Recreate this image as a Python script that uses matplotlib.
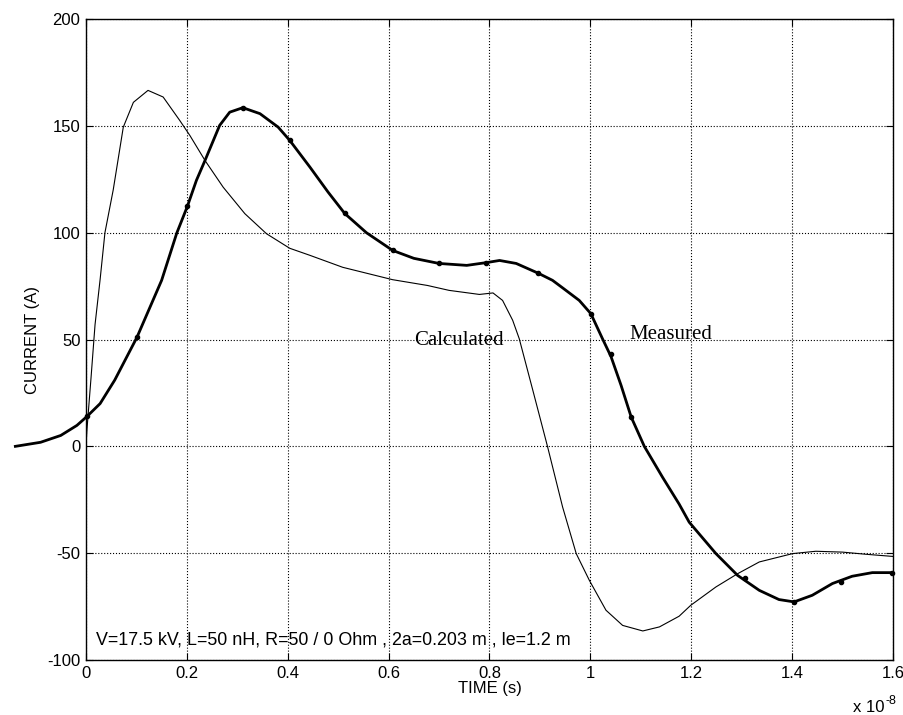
import numpy as np
import matplotlib
matplotlib.use("Agg")
import matplotlib.pyplot as plt

plt.rcParams['font.family'] = ['Liberation Sans', 'DejaVu Sans']
plt.rcParams['axes.unicode_minus'] = False

# time in units of 1e-8 s, current in A
meas_t = [-0.14, -0.09, -0.05, -0.018, 0.002, 0.028, 0.057, 0.101, 0.15, 0.18,
          0.201, 0.219, 0.236, 0.265, 0.285, 0.311, 0.345, 0.381, 0.404, 0.444,
          0.48, 0.513, 0.556, 0.608, 0.65, 0.70, 0.755, 0.794, 0.82, 0.853,
          0.897, 0.925, 0.946, 0.978, 1.001, 1.024, 1.041, 1.061, 1.081, 1.107,
          1.143, 1.176, 1.196, 1.249, 1.292, 1.335, 1.374, 1.404, 1.44, 1.48,
          1.519, 1.559, 1.599]
meas_i = [0.0, 1.9, 5.1, 9.8, 14.0, 20.0, 31.0, 51.0, 77.7, 99.8,
          112.3, 124.5, 133.8, 150.2, 156.4, 158.5, 155.7, 149.4, 143.2, 130.7,
          119.0, 109.0, 100.0, 91.7, 88.0, 85.6, 84.7, 86.0, 87.0, 85.6,
          81.0, 77.7, 74.0, 68.3, 62.1, 50.4, 42.0, 28.5, 13.7, 0.0,
          -14.4, -27.0, -35.5, -50.2, -60.4, -67.4, -71.7, -72.8, -69.7, -64.2,
          -60.8, -59.1, -59.1]

# sample dots on the measured trace
mark_t = [0.002, 0.101, 0.201, 0.311, 0.404, 0.513, 0.608, 0.70, 0.794, 0.897,
          1.001, 1.041, 1.081, 1.307, 1.404, 1.496, 1.599]
mark_i = [14.0, 51.0, 112.3, 158.5, 143.2, 109.0, 91.7, 85.6, 86.0, 81.0,
          62.1, 43.4, 13.7, -61.8, -72.8, -63.7, -59.1]

calc_t = [0.0, 0.002, 0.01, 0.018, 0.028, 0.0376, 0.054, 0.074, 0.094, 0.123,
          0.153, 0.186, 0.206, 0.236, 0.272, 0.315, 0.358, 0.404, 0.444, 0.509,
          0.608, 0.677, 0.72, 0.78, 0.807, 0.826, 0.846, 0.859, 0.886, 0.915,
          0.945, 0.972, 0.998, 1.031, 1.064, 1.104, 1.137, 1.176, 1.199, 1.249,
          1.292, 1.335, 1.401, 1.447, 1.50, 1.546, 1.599]
calc_i = [0.0, 8.0, 32.0, 57.0, 78.0, 100.0, 120.0, 149.4, 161.0, 166.6,
          163.5, 152.5, 145.5, 133.8, 121.3, 108.9, 99.5, 92.7, 89.4, 83.8,
          78.0, 75.3, 73.0, 71.1, 71.8, 68.3, 59.0, 50.4, 26.2, 0.0,
          -28.4, -50.2, -62.7, -76.7, -83.8, -86.4, -84.5, -79.5, -74.4, -65.8,
          -59.6, -54.1, -50.2, -49.1, -49.5, -50.5, -51.5]

x_ticks = [0, 0.2, 0.4, 0.6, 0.8, 1, 1.2, 1.4, 1.6]
x_tick_labels = ['0', '0.2', '0.4', '0.6', '0.8', '1', '1.2', '1.4', '1.6']
y_ticks = [-100, -50, 0, 50, 100, 150, 200]

fig = plt.figure(figsize=(9.04, 7.15), dpi=100)
ax = fig.add_axes([0.0951, 0.0769, 0.8927, 0.8965])

ax.plot(calc_t, calc_i, color='black', lw=0.8)
ax.plot(meas_t, meas_i, color='black', lw=2.0, clip_on=False)
ax.plot(mark_t, mark_i, 'o', color='black', ms=3, clip_on=False)

ax.set_xlim(0, 1.6)
ax.set_ylim(-100, 200)
ax.set_xticks(x_ticks)
ax.set_xticklabels(x_tick_labels)
ax.set_yticks(y_ticks)
ax.grid(True, color='black', linestyle=':', lw=0.8)
ax.tick_params(direction='in', length=5, top=True, right=True, labelsize=12, pad=4)
for s in ax.spines.values():
    s.set_linewidth(1.0)

ax.set_xlabel('TIME (s)', fontsize=12)
ax.xaxis.set_label_coords(0.5, -0.033)
ax.set_ylabel('CURRENT (A)', fontsize=12)
ax.yaxis.set_label_coords(-0.057, 0.5)

# "x 10^-8" under the right end of the time axis
ax.text(0.990, -0.0815, 'x 10', transform=ax.transAxes, ha='right',
        va='baseline', fontsize=12)
ax.text(0.9905, -0.069, '-8', transform=ax.transAxes, ha='left',
        va='baseline', fontsize=9)

ax.text(0.651, 49.6, 'Calculated', family='Liberation Serif', fontsize=15,
        va='center', ha='left')
ax.text(1.077, 52.4, 'Measured', family='Liberation Serif', fontsize=15,
        va='center', ha='left')
ax.text(0.02, -90.8, 'V=17.5 kV, L=50 nH, R=50 / 0 Ohm , 2a=0.203 m , le=1.2 m',
        fontsize=12.9, va='center', ha='left')

fig.savefig('out.png', dpi=100)
